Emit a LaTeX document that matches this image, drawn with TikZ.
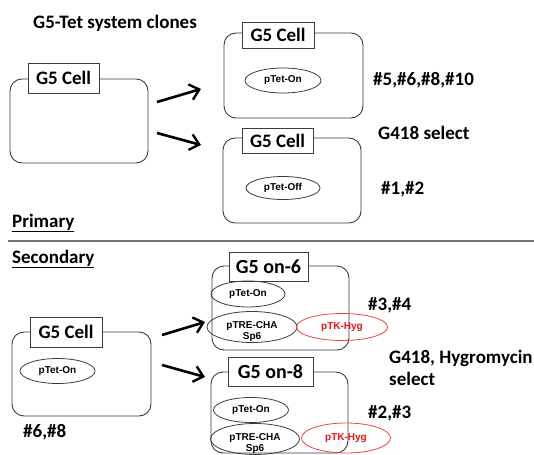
\documentclass[tikz,border=0pt]{standalone}
\usepackage{fontspec}
\setmainfont{Carlito}
\newfontfamily\arialf{Liberation Sans}
\usetikzlibrary{shapes.geometric,arrows.meta}
\definecolor{edge}{RGB}{60,60,60}
\definecolor{redline}{RGB}{235,70,70}
\definecolor{redtext}{RGB}{235,20,20}
\tikzset{
  cell/.style={draw=edge,line width=0.9pt,rounded corners=12pt,inner sep=0pt},
  lab/.style={draw=edge,line width=0.9pt,fill=white,inner sep=0pt,font=\fontsize{19}{20}\selectfont\bfseries},
  plasmid/.style={draw=edge,line width=0.8pt,ellipse,inner sep=0pt,font=\arialf\fontsize{10}{11}\selectfont\bfseries},
  redplasmid/.style={draw=redline,line width=0.8pt,ellipse,inner sep=0pt,text=redtext,font=\arialf\fontsize{10}{11}\selectfont\bfseries},
  small/.style={inner sep=0pt,font=\arialf\fontsize{10}{11}\selectfont\bfseries},
  txt/.style={inner sep=0pt,anchor=west,font=\fontsize{19}{22}\selectfont\bfseries},
  bigarrow/.style={line width=2.6pt,-{Straight Barb[length=9pt,width=16pt,line width=2.4pt]}}
}
\begin{document}
\begin{tikzpicture}[x=1pt,y=-1pt]
\useasboundingbox (0,0) rectangle (534,454);
% title
\node[txt,font=\fontsize{19}{21}\selectfont\bfseries] (title) at (33,23) {G5-Tet system clones};
% primary left cell
\node[cell,minimum width=138pt,minimum height=84pt] (c0) at (79,121) {};
\node[lab,minimum width=71pt,minimum height=30pt] (l0) at (63.5,78) {G5 Cell};
% top right cell
\node[cell,minimum width=139pt,minimum height=85pt] (c1) at (293.5,75.5) {};
\node[lab,minimum width=72pt,minimum height=26pt] (l1) at (278,35) {G5 Cell};
\node[plasmid,minimum width=76pt,minimum height=25pt] (p1) at (283,80.5) {pTet-On};
% second right cell
\node[cell,minimum width=138pt,minimum height=85pt] (c2) at (292,180.5) {};
\node[lab,minimum width=71pt,minimum height=25pt] (l2) at (277.5,140.5) {G5 Cell};
\node[plasmid,minimum width=74pt,minimum height=23pt] (p2) at (283,188) {pTet-Off};
% arrows primary
\coordinate (a1s) at (157,102);
\coordinate (a1e) at (201,89);
\coordinate (a2s) at (157,133);
\coordinate (a2e) at (201,145);
\draw[bigarrow] (a1s) -- (a1e);
\draw[bigarrow] (a2s) -- (a2e);
% texts primary
\node[txt] (n1) at (373,80) {\#5,\#6,\#8,\#10};
\node[txt] (g1) at (378,133) {G418 select};
\node[txt] (n2) at (381,189) {\#1,\#2};
\node[inner sep=0pt,anchor=base west,font=\fontsize{19}{20}\selectfont\bfseries] (prim) at (12,227) {\underline{Primary}};
% separator
\coordinate (sepL) at (8,241);
\coordinate (sepR) at (534,241);
\draw[color=black!55,line width=1.3pt] (sepL) -- (sepR);
\node[inner sep=0pt,anchor=base west,font=\fontsize{19}{20}\selectfont\bfseries] (sec) at (12,263) {\underline{Secondary}};
% secondary left cell
\node[cell,minimum width=139pt,minimum height=84pt] (c3) at (81.5,374) {};
\node[lab,minimum width=72pt,minimum height=30pt] (l3) at (66,332) {G5 Cell};
\node[plasmid,minimum width=75pt,minimum height=25pt] (p3) at (57.5,371) {pTet-On};
\node[txt] (n3) at (23,432) {\#6,\#8};
% on-6
\node[cell,minimum width=137pt,minimum height=84pt] (c4) at (280.5,308) {};
\node[lab,minimum width=79pt,minimum height=29pt,font=\fontsize{20}{22}\selectfont\bfseries] (l4) at (268.5,266.5) {G5 on-6};
\node[plasmid,minimum width=74pt,minimum height=26pt] (p4a) at (248,294) {pTet-On};
\node[plasmid,minimum width=90pt,minimum height=31pt] (p4b) at (252,327) {};
\node[small] (p4bt) at (252,326) {pTRE-CHA};
\node[small] (p4bs) at (252,337) {Sp6};
\node[redplasmid,minimum width=91pt,minimum height=27pt] (p4c) at (342,327) {pTK-Hyg};
% on-8
\node[cell,minimum width=137pt,minimum height=81pt] (c5) at (279.5,412.5) {};
\node[lab,minimum width=85pt,minimum height=29pt,font=\fontsize{20}{22}\selectfont\bfseries] (l5) at (270.5,371.5) {G5 on-8};
\node[plasmid,minimum width=75pt,minimum height=25pt] (p5a) at (251,410) {pTet-On};
\node[plasmid,minimum width=89pt,minimum height=31pt] (p5b) at (255,439) {};
\node[small] (p5bt) at (255,438) {pTRE-CHA};
\node[small] (p5bs) at (255,449) {Sp6};
\node[redplasmid,minimum width=89pt,minimum height=30pt] (p5c) at (346,438) {pTK-Hyg};
% arrows secondary
\coordinate (b1s) at (162,335);
\coordinate (b1e) at (205,322);
\coordinate (b2s) at (162,365);
\coordinate (b2e) at (205,377);
\draw[bigarrow] (b1s) -- (b1e);
\draw[bigarrow] (b2s) -- (b2e);
% texts secondary
\node[txt] (n4) at (368,305) {\#3,\#4};
\node[txt] (g2) at (389,358) {G418, Hygromycin};
\node[txt] (g2b) at (389,379) {select};
\node[txt] (n5) at (368,413) {\#2,\#3};
\end{tikzpicture}
\end{document}
